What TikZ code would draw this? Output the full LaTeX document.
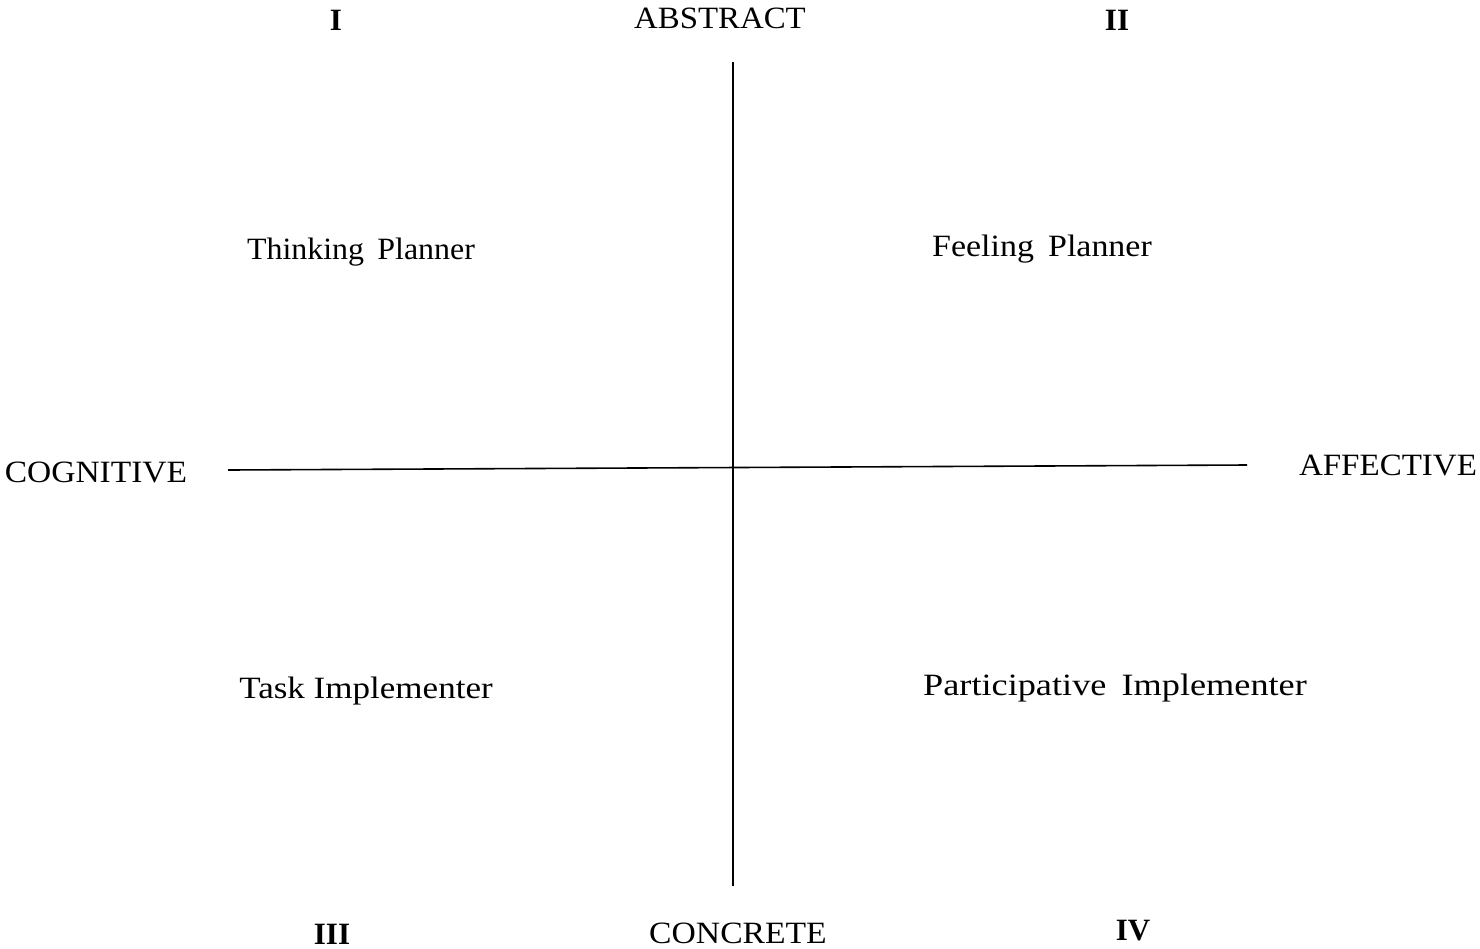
\documentclass[tikz,border=0pt]{standalone}
\usepackage{fontspec}
\setmainfont{Liberation Serif}
\newcommand{\sxb}[2]{\scalebox{#1}[1]{#2}}
\begin{document}
\begin{tikzpicture}[x=1pt,y=-1pt,
  lbl/.style={font=\fontsize{31}{35}\selectfont, inner sep=0pt, anchor=center},
  num/.style={lbl, font=\fontsize{31}{35}\selectfont\bfseries},
  axis/.style={line width=1.6pt, black}]
\useasboundingbox (0,0) rectangle (1480,948);
\node[num] (q1) at (336,20) {I};
\node[lbl] (abs) at (720,18) {\sxb{1.06}{ABSTRACT}};
\node[num] (q2) at (1117,20) {II};
\node[num] (q3) at (332,934) {III};
\node[lbl] (con) at (738,933) {\sxb{1.085}{CONCRETE}};
\node[num] (q4) at (1133,931) {IV};
\node[lbl] (cog) at (96,472) {\sxb{1.08}{COGNITIVE}};
\node[lbl] (aff) at (1388,465) {\sxb{1.065}{AFFECTIVE}};
\node[lbl] (tp) at (361,252) {\sxb{1.03}{Thinking\, Planner}};
\node[lbl] (fp) at (1042,249) {\sxb{1.095}{Feeling\, Planner}};
\node[lbl] (ti) at (366,691) {\sxb{1.13}{Task Implementer}};
\node[lbl] (pi) at (1115,688) {\sxb{1.17}{Participative\, Implementer}};
\coordinate (vt) at (733,62);
\coordinate (vb) at (733,886);
\coordinate (hl) at (228,470);
\coordinate (hr) at (1247,465);
\draw[axis] (vt) -- (vb);
\draw[axis] (hl) -- (hr);
\end{tikzpicture}
\end{document}
